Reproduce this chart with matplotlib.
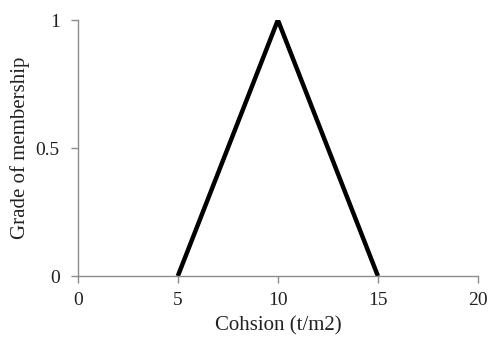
import matplotlib
matplotlib.use('Agg')
import matplotlib.pyplot as plt

# membership function points (triangle)
cohesion = [5, 10, 15]
membership = [0, 1, 0]

xticks = [0, 5, 10, 15, 20]
yticks = [0, 0.5, 1]
ytick_labels = ['0', '0.5', '1']

plt.rcParams['font.family'] = ['Liberation Serif', 'DejaVu Serif']

fig = plt.figure(figsize=(4.89, 3.4), dpi=100)
ax = fig.add_axes([0.159, 0.188, 0.8185, 0.753])

ax.plot(cohesion, membership, color='black', linewidth=3.2, solid_capstyle='butt')

ax.set_xlim(0, 20)
ax.set_ylim(0, 1)
ax.set_xticks(xticks)
ax.set_yticks(yticks)
ax.set_yticklabels(ytick_labels)

for s in ['top', 'right']:
    ax.spines[s].set_visible(False)
for s in ['left', 'bottom']:
    ax.spines[s].set_color('#8c8c8c')
    ax.spines[s].set_linewidth(1.0)

ax.tick_params(axis='both', direction='out', length=5, width=1, color='#8c8c8c',
               labelsize=14, labelcolor='#222222')
ax.tick_params(axis='x', pad=6.5)
ax.tick_params(axis='y', pad=8)

ax.set_xlabel('Cohsion (t/m2)', fontsize=15, color='#222222', labelpad=5)
ax.set_ylabel('Grade of membership', fontsize=15, color='#222222', labelpad=4)

fig.savefig('out.png', dpi=100)
